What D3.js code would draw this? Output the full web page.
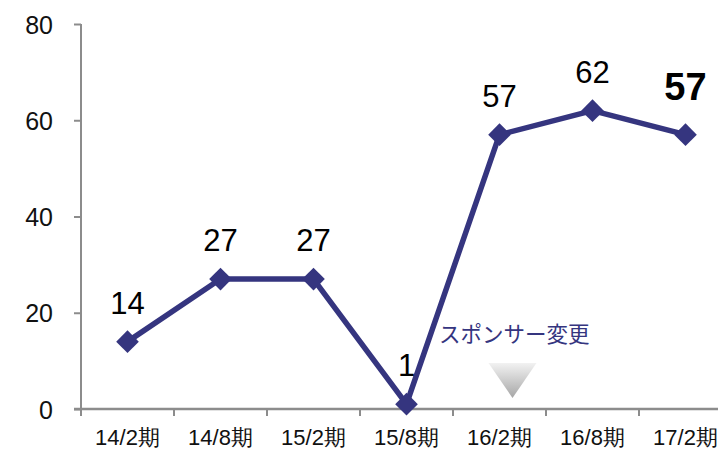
<!DOCTYPE html>
<html>
<head>
<meta charset="utf-8">
<script src="https://cdn.jsdelivr.net/npm/d3@7"></script>
<style>
  body { margin: 0; background: #fff; }
  svg { display: block; font-family: Arial, "Liberation Sans", sans-serif; }
</style>
</head>
<body>
<svg id="chart" width="718" height="449"></svg>
<script>
const periods = ["14/2期", "14/8期", "15/2期", "15/8期", "16/2期", "16/8期", "17/2期"];
const scores = [14, 27, 27, 1, 57, 62, 57];
const yTicks = [0, 20, 40, 60, 80];
const noteText = "スポンサー変更";
const notePeriod = "16/2期";

const svg = d3.select("#chart");
const axisColor = "#8c8c8c";
const lineColor = "#35357f";

const x = d3.scaleBand().domain(periods).range([81, 732]);
const y = d3.scaleLinear().domain([0, 80]).range([409, 24]);
const cx = d => x(d) + x.bandwidth() / 2;

// y axis
const yAxis = svg.append("g").attr("transform", "translate(81,0)")
  .call(d3.axisLeft(y).tickValues(yTicks).tickSize(7).tickPadding(21).tickFormat(d3.format("d")));
yAxis.select(".domain").attr("stroke", axisColor).attr("stroke-width", 2).attr("d", "M0,24V409");
yAxis.selectAll(".tick line").attr("stroke", axisColor).attr("stroke-width", 2);
yAxis.selectAll(".tick text").attr("fill", "#111").style("font-size", "25px")
  .attr("dy", "0.36em");

// x axis, ticks on band boundaries
const xAxis = svg.append("g").attr("transform", "translate(0,409)");
xAxis.append("line").attr("x1", 74).attr("x2", 718).attr("y1", 0).attr("y2", 0)
  .attr("stroke", axisColor).attr("stroke-width", 2.5);
xAxis.selectAll("line.tk").data(periods).join("line").attr("class", "tk")
  .attr("x1", d => x(d)).attr("x2", d => x(d)).attr("y1", 0).attr("y2", 7)
  .attr("stroke", axisColor).attr("stroke-width", 2);
xAxis.selectAll("text").data(periods).join("text")
  .attr("x", d => cx(d)).attr("y", 36).attr("text-anchor", "middle")
  .attr("fill", "#111").style("font-size", "22px").text(d => d);

// annotation marker: gradient triangle
const defs = svg.append("defs");
const grad = defs.append("linearGradient").attr("id", "triGrad")
  .attr("x1", 0).attr("y1", 0).attr("x2", 0).attr("y2", 1);
grad.append("stop").attr("offset", "0%").attr("stop-color", "#f2f2f2");
grad.append("stop").attr("offset", "100%").attr("stop-color", "#a6a6a6");
const tx = cx(notePeriod) + 13;
svg.append("path")
  .attr("d", `M${tx - 24},363L${tx + 24},363L${tx},398Z`)
  .attr("fill", "url(#triGrad)");
svg.append("text").attr("x", 439).attr("y", 342)
  .attr("fill", lineColor).style("font-size", "21.5px")
  .style("font-family", "'Noto Sans CJK JP', sans-serif")
  .text(noteText);

// line + markers
const data = periods.map((p, i) => ({ p, v: scores[i] }));
svg.append("path").datum(data)
  .attr("fill", "none").attr("stroke", lineColor).attr("stroke-width", 5.5)
  .attr("stroke-linejoin", "round")
  .attr("d", d3.line().x(d => cx(d.p)).y(d => y(d.v)));
svg.selectAll("path.mk").data(data).join("path").attr("class", "mk")
  .attr("transform", d => `translate(${cx(d.p)},${y(d.v)}) rotate(45)`)
  .attr("d", "M-8,-8H8V8H-8Z").attr("fill", lineColor);

// value labels
const last = data.length - 1;
svg.selectAll("text.val").data(data).join("text").attr("class", "val")
  .attr("x", d => cx(d.p)).attr("y", (d, i) => y(d.v) - (i === last ? 35 : 28))
  .attr("text-anchor", "middle").attr("fill", "#000")
  .style("font-size", (d, i) => i === last ? "38px" : "31px")
  .style("font-weight", (d, i) => i === last ? "bold" : "normal")
  .text(d => d.v);
</script>
</body>
</html>
